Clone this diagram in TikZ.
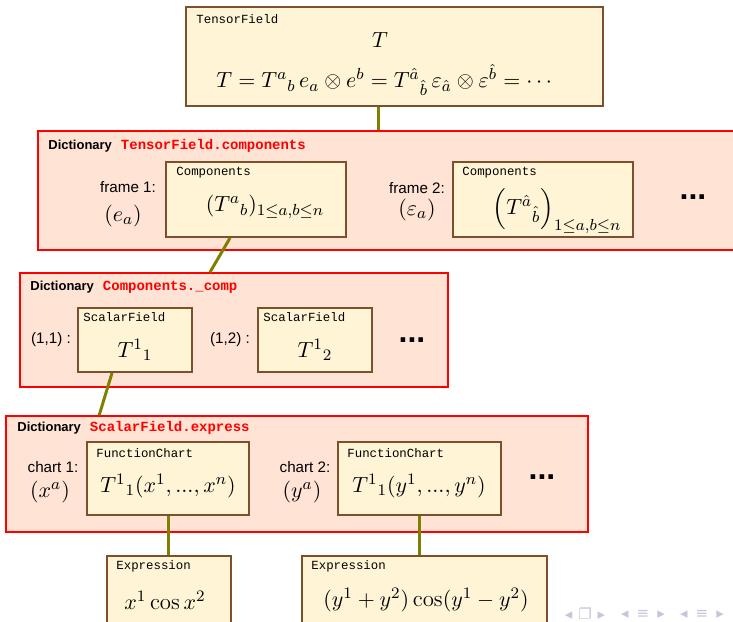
\documentclass[tikz,border=0pt]{standalone}
\usepackage{amsmath,amssymb}
\usepackage{fontspec}
\setsansfont{Liberation Sans}
\setmonofont{Liberation Mono}
\newfontfamily\navfont{DejaVu Sans}
\usepackage{tikz}
\usetikzlibrary{calc}
\definecolor{objfill}{HTML}{FFF4D6}
\definecolor{objbrown}{HTML}{7D4F2A}
\definecolor{dictfill}{HTML}{FFE4D5}
\definecolor{dictred}{HTML}{FF0000}
\definecolor{linkolive}{HTML}{808000}
\definecolor{navgray}{HTML}{C3C7DC}
\tikzset{
  objbox/.style={draw=objbrown,fill=objfill,line width=1pt,inner sep=0pt},
  dictbox/.style={draw=dictred,fill=dictfill,line width=0.8pt,inner sep=0pt},
  kindlabel/.style={anchor=west,inner sep=0pt,font=\fontsize{6.2}{7}\selectfont\ttfamily},
  dicthead/.style={anchor=west,inner sep=0pt,font=\fontsize{6.5}{8}\selectfont\sffamily\bfseries},
  keylabel/.style={inner sep=0pt,font=\fontsize{7.6}{9}\selectfont\sffamily},
  mathlabel/.style={inner sep=0pt,font=\fontsize{11.4}{13}\selectfont},
  moredots/.style={inner sep=0pt,font=\fontsize{16}{18}\selectfont\sffamily\bfseries},
  navlabel/.style={inner sep=0pt,text=navgray,font=\fontsize{7.5}{8}\selectfont\navfont},
  linkline/.style={draw=linkolive,line width=1.5pt},
}
\newcommand{\dictname}[1]{\textcolor{dictred}{\fontsize{7}{8}\selectfont\ttfamily\bfseries #1}}

\begin{document}
\begin{tikzpicture}[x=0.5pt,y=-0.5pt]
  \useasboundingbox (0,0) rectangle (733,621);
  \clip (0,0) rectangle (733,621);

  % tensor field
  \node[objbox,minimum width=208.5pt,minimum height=49.5pt] (tf) at (394.5,56.5) {};
  \node[kindlabel] (tfkind) at ($(tf.north west)+(11,13)$) {TensorField};
  \node[mathlabel] (tfname) at (380,40) {$T$};
  \node[mathlabel] (tfexpr) at (386,80)
    {$T = T^a{}_b\, e_a\otimes e^b = T^{\hat a}{}_{\hat b}\, \varepsilon_{\hat a}\otimes\varepsilon^{\hat b} = \cdots$};

  % TensorField.components
  \node[dictbox,minimum width=353.5pt,minimum height=59.5pt] (dicta) at (391.5,190.5) {};
  \node[dicthead] (dictahead) at (48,146) {Dictionary\hspace{4.5pt}\dictname{TensorField.components}};
  \node[keylabel] (frameone) at (128,187) {frame 1:};
  \node[mathlabel] (frameonebasis) at (123,216) {$(e_a)$};
  \node[objbox,minimum width=90pt,minimum height=37.5pt] (compone) at (256,199.5) {};
  \node[kindlabel] (componekind) at ($(compone.north west)+(11,12)$) {Components};
  \node[mathlabel] (componeval) at (265,207) {$(T^a{}_b)_{1\leq a,b\leq n}$};
  \node[keylabel] (frametwo) at (417,188) {frame 2:};
  \node[mathlabel] (frametwobasis) at (417,210) {$(\varepsilon_a)$};
  \node[objbox,minimum width=90pt,minimum height=37.5pt] (comptwo) at (543,199.5) {};
  \node[kindlabel] (comptwokind) at ($(comptwo.north west)+(10,12)$) {Components};
  \node[mathlabel] (comptwoval) at (557,211) {$\Big(T^{\hat a}{}_{\hat b}\Big)_{1\leq a,b\leq n}$};
  \node[moredots] (dictadots) at (693,197) {...};

  % Components._comp
  \node[dictbox,minimum width=214pt,minimum height=57pt] (dictb) at (234,330) {};
  \node[dicthead] (dictbhead) at (30,287) {Dictionary\hspace{4.5pt}\dictname{Components.\_comp}};
  \node[keylabel] (idxone) at (51,340) {(1,1) :};
  \node[objbox,minimum width=57pt,minimum height=32pt] (sfone) at (135,340) {};
  \node[kindlabel] (sfonekind) at ($(sfone.north west)+(6,10)$) {ScalarField};
  \node[mathlabel] (sfoneval) at (135,350) {$T^1{}_1$};
  \node[keylabel] (idxtwo) at (230,340) {(1,2) :};
  \node[objbox,minimum width=57pt,minimum height=32pt] (sftwo) at (315,340) {};
  \node[kindlabel] (sftwokind) at ($(sftwo.north west)+(6,10)$) {ScalarField};
  \node[mathlabel] (sftwoval) at (315,350) {$T^1{}_2$};
  \node[moredots] (dictbdots) at (412,340) {...};

  % ScalarField.express
  \node[dictbox,minimum width=291pt,minimum height=58pt] (dictc) at (297,474) {};
  \node[dicthead] (dictchead) at (17,428) {Dictionary\hspace{4.5pt}\dictname{ScalarField.express}};
  \node[keylabel] (chartone) at (53,467) {chart 1:};
  \node[mathlabel] (chartonecoord) at (50,492) {$(x^a)$};
  \node[objbox,minimum width=81pt,minimum height=36.5pt] (fcone) at (168,478.5) {};
  \node[kindlabel] (fconekind) at ($(fcone.north west)+(10,12)$) {FunctionChart};
  \node[mathlabel] (fconeval) at (168,486) {$T^1{}_1(x^1,...,x^n)$};
  \node[keylabel] (charttwo) at (305,467) {chart 2:};
  \node[mathlabel] (charttwocoord) at (302,492) {$(y^a)$};
  \node[objbox,minimum width=81.5pt,minimum height=36.5pt] (fctwo) at (419.5,478.5) {};
  \node[kindlabel] (fctwokind) at ($(fctwo.north west)+(10,12)$) {FunctionChart};
  \node[mathlabel] (fctwoval) at (419,486) {$T^1{}_1(y^1,...,y^n)$};
  \node[moredots] (dictcdots) at (542,477) {...};

  % expressions
  \node[objbox,minimum width=62pt,minimum height=47pt] (exprone) at (169,603) {};
  \node[kindlabel] (expronekind) at ($(exprone.north west)+(10,11)$) {Expression};
  \node[mathlabel] (exproneval) at (165,600) {$x^1\cos x^2$};
  \node[objbox,minimum width=122.5pt,minimum height=47pt] (exprtwo) at (424.5,603) {};
  \node[kindlabel] (exprtwokind) at ($(exprtwo.north west)+(10,11)$) {Expression};
  \node[mathlabel] (exprtwoval) at (426,600) {$(y^1+y^2)\cos(y^1-y^2)$};

  \draw[linkline] ([xshift=-8.25pt]tf.south) -- ([xshift=-8.25pt]tf.south |- dicta.north);
  \draw[linkline] ([xshift=-13pt]compone.south) -- ([xshift=-12pt]dictb.north);
  \draw[linkline] ([xshift=-11.5pt]sfone.south) -- ([xshift=47pt]dictc.north west);
  \draw[linkline] (fcone.south) -- (fcone.south |- exprone.north);
  \draw[linkline] (fctwo.south) -- (fctwo.south |- exprtwo.north);

  % navigation symbols
  \node[navlabel] (navframe) at (585,614) {◂\hspace{3pt}❐\hspace{3pt}▸};
  \node[navlabel] (navsection) at (643,614) {◂\hspace{4pt}≡\hspace{4pt}▸};
  \node[navlabel] (navsubsection) at (702,614) {◂\hspace{4pt}≡\hspace{4pt}▸};
\end{tikzpicture}
\end{document}
